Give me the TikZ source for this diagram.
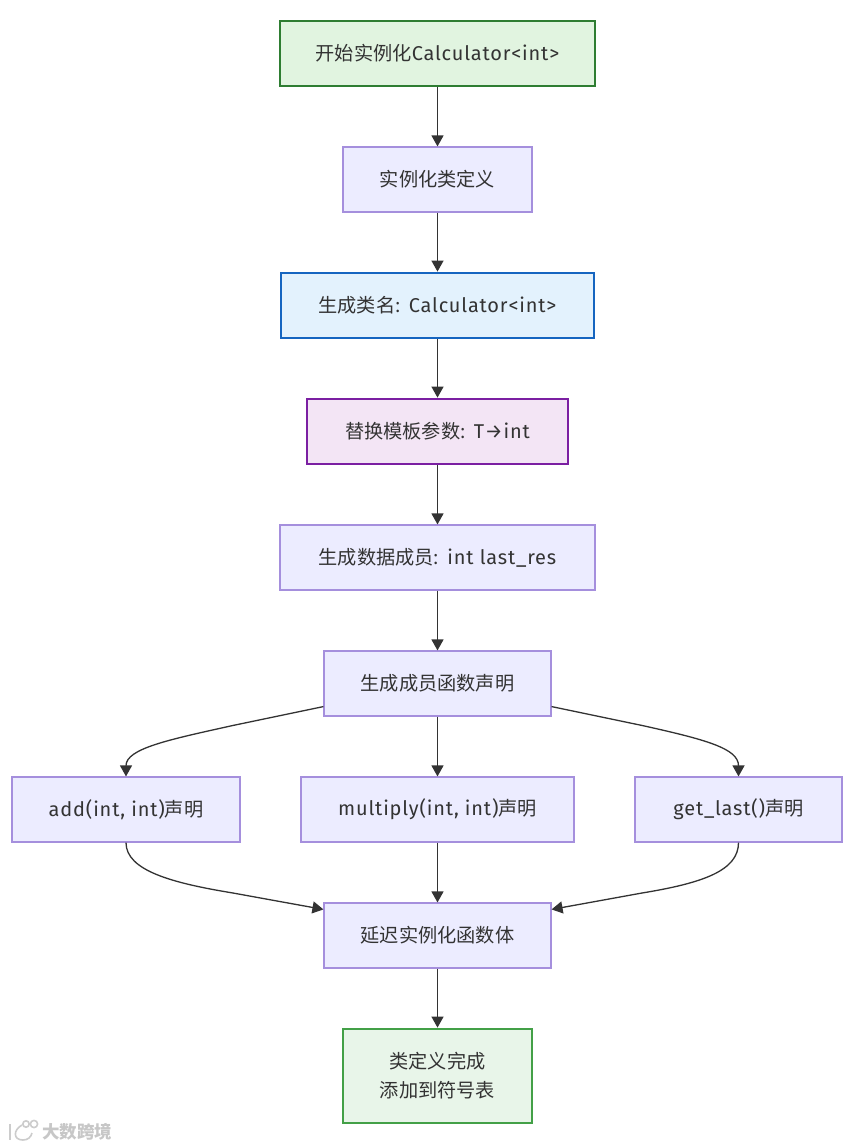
\documentclass[tikz,border=0pt]{standalone}
\usepackage{fontspec}
\setmainfont[LetterSpace=4.2,Scale=1.04]{Fira Sans}
\newfontfamily\cjk{Noto Sans CJK SC}
\usetikzlibrary{arrows.meta,calc}
\definecolor{ink}{HTML}{333333}
\definecolor{mfill}{HTML}{ECECFF}
\definecolor{mline}{HTML}{A58FDD}
\definecolor{HTMLstart}{HTML}{2E7D32}\definecolor{HTMLstartf}{HTML}{E1F4E0}
\definecolor{HTMLblue}{HTML}{1565C0}\definecolor{HTMLbluef}{HTML}{E3F2FD}
\definecolor{HTMLpur}{HTML}{7B1FA2}\definecolor{HTMLpurf}{HTML}{F3E5F5}
\definecolor{HTMLend}{HTML}{43A047}\definecolor{HTMLendf}{HTML}{E8F5E9}
\tikzset{
  x=1pt,y=-1pt,
  bx/.style={draw=mline,fill=mfill,line width=1.15pt,text=ink,inner sep=0pt,align=center,font=\fontsize{19.2}{29}\selectfont},
  startbx/.style={bx,draw=HTMLstart,fill=HTMLstartf,line width=2.8pt},
  bluebx/.style={bx,draw=HTMLblue,fill=HTMLbluef,line width=2.8pt},
  purplebx/.style={bx,draw=HTMLpur,fill=HTMLpurf,line width=2.8pt},
  endbx/.style={bx,draw=HTMLend,fill=HTMLendf,line width=2.8pt},
  conn/.style={draw=ink,line width=1.3pt,-{Triangle[length=11pt,width=12pt]}},
}
\newcommand{\lift}[1]{\raisebox{1.8pt}{#1}}
\begin{document}
\begin{tikzpicture}
\useasboundingbox (0,0) rectangle (860,1148);
\fill[white] (0,0) rectangle (860,1148);
\node[startbx,minimum width=315pt,minimum height=65pt] (a) at (437.5,53.5) {\lift{{\cjk 开始实例化}Calculator<int>}};
\node[bx,minimum width=189pt,minimum height=65pt] (b) at (437.5,179.5) {\lift{{\cjk 实例化类定义}}};
\node[bluebx,minimum width=313pt,minimum height=65pt] (c) at (437.5,305.5) {\lift{{\cjk 生成类名:} Calculator<int>}};
\node[purplebx,minimum width=261pt,minimum height=65pt] (d) at (437.5,431.5) {\lift{{\cjk 替换模板参数:} T→int}};
\node[bx,minimum width=315pt,minimum height=65pt] (e) at (437.5,557.5) {\lift{{\cjk 生成数据成员:} int last\_res}};
\node[bx,minimum width=227pt,minimum height=65pt] (f) at (437.5,683.5) {\lift{{\cjk 生成成员函数声明}}};
\node[bx,minimum width=228pt,minimum height=65pt] (g) at (126,809.5) {\lift{add(int, int){\cjk 声明}}};
\node[bx,minimum width=273pt,minimum height=65pt] (h) at (437.5,809.5) {\lift{multiply(int, int){\cjk 声明}}};
\node[bx,minimum width=207pt,minimum height=65pt] (i) at (738.5,809.5) {\lift{get\_last(){\cjk 声明}}};
\node[bx,minimum width=227pt,minimum height=65pt] (j) at (437.5,935.5) {\lift{{\cjk 延迟实例化函数体}}};
\node[endbx,minimum width=189pt,minimum height=94pt] (k) at (437.5,1076) {{\cjk 类定义完成}\\{\cjk 添加到符号表}};
\foreach \p/\q in {a/b,b/c,c/d,d/e,e/f,f/h,h/j,j/k}
  \draw[conn] (\p) -- (\q);
\coordinate (fl) at ($(f.south west)+(0,-10)$);
\coordinate (fr) at ($(f.south east)+(0,-10)$);
\coordinate (jl) at ($(j.north west)+(0,7)$);
\coordinate (jr) at ($(j.north east)+(0,7)$);
\draw[conn] (fl) -- ++(-91,19) .. controls +(-63,14) and ($(g.north)+(0,-28)$) .. (g.north);
\draw[conn] (fr) -- ++(91,19) .. controls +(63,14) and ($(i.north)+(0,-28)$) .. (i.north);
\draw[conn] (g.south) .. controls ($(g.south)+(0,28)$) and (172,883) .. (233,893) -- (jl);
\draw[conn] (i.south) .. controls ($(i.south)+(0,28)$) and (703,883) .. (642,893) -- (jr);
% watermark
\begin{scope}[draw=black!20,line width=1.6pt]
\draw (10,1124) -- (10,1140);
\draw (22,1125) .. controls (13,1130) and (13,1140) .. (23,1140) .. controls (28,1140) and (31,1137) .. (32,1133);
\draw (26,1124) circle[radius=3.2];
\draw (34,1124) circle[radius=3.6];
\end{scope}
\node[text=black!22,inner sep=0pt,font=\cjk\bfseries\fontsize{17.5}{17.5}\selectfont] (wm) at (77,1132) {大数跨境};
\end{tikzpicture}
\end{document}
